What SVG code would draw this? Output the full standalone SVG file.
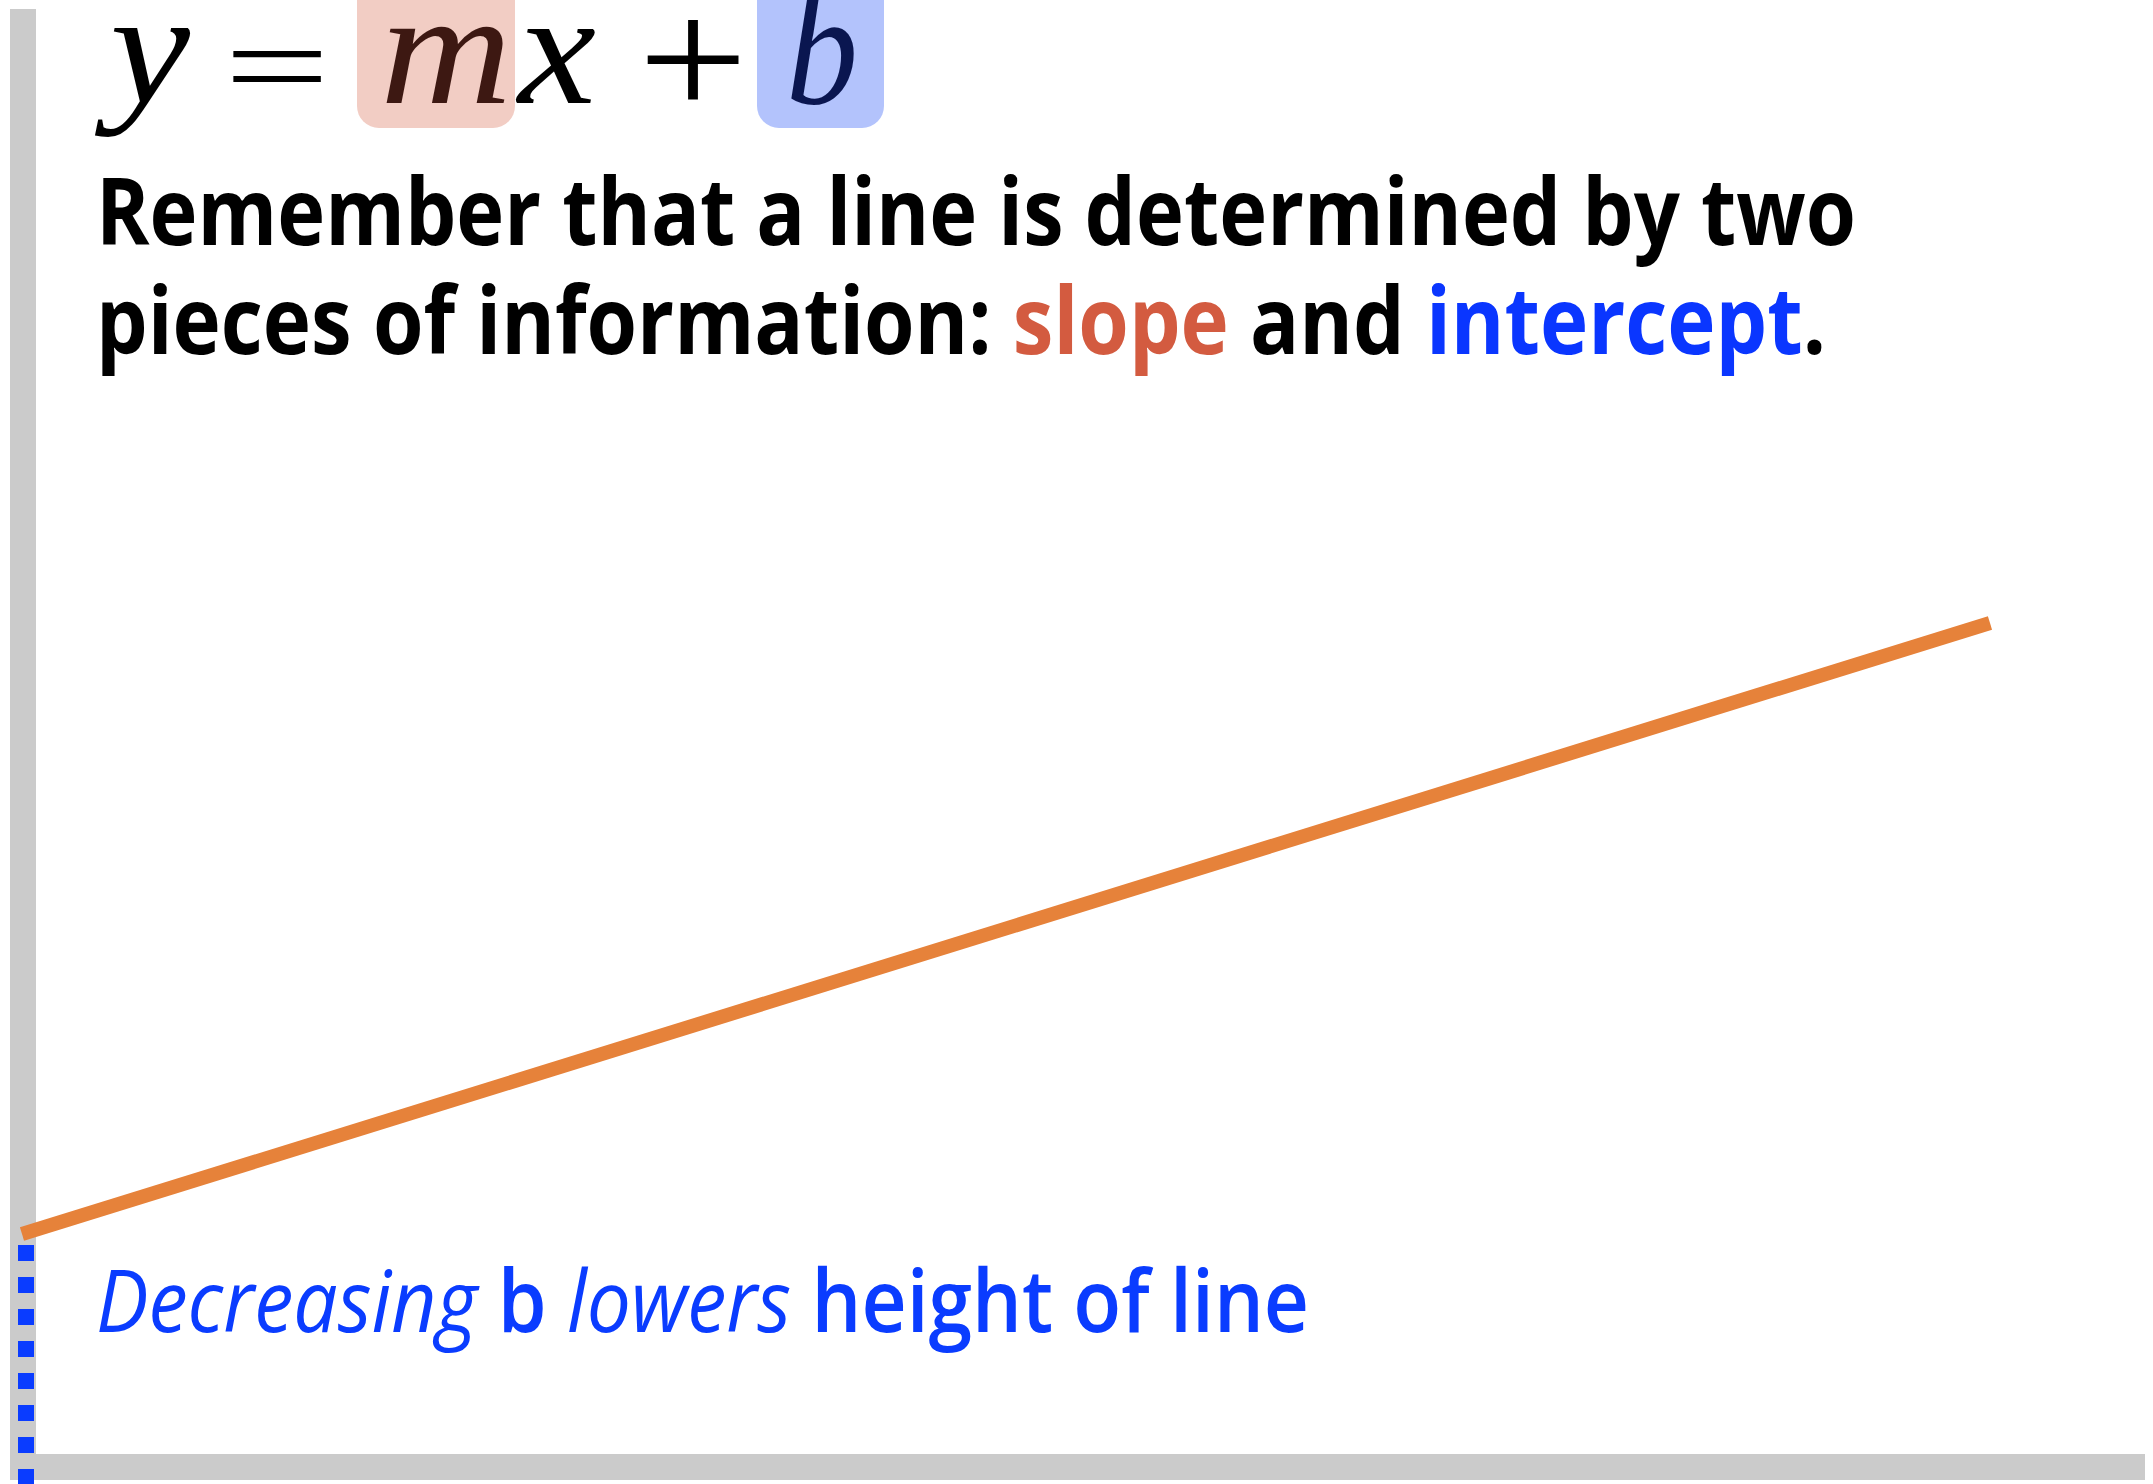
<svg xmlns="http://www.w3.org/2000/svg" width="2153" height="1484" viewBox="0 0 2153 1484">
<style>
.ax{fill:#cbcbcb}
.eq{font-family:"Liberation Serif","DejaVu Serif",serif;font-style:italic;font-size:160px}
.op{font-family:"Liberation Serif","DejaVu Serif",serif;fill:#000}
.body{font-family:"Open Sans","Noto Sans",sans-serif;font-weight:700;font-size:94px;fill:#000}
.note{font-family:"Open Sans","Noto Sans",sans-serif;font-size:86px;fill:#0a3cff}
.up{font-weight:600}
</style>
<rect width="2153" height="1484" fill="#fff"/>
<g id="axes">
  <rect class="ax" x="10" y="9" width="26" height="1471"/>
  <rect class="ax" x="10" y="1454" width="2135" height="26"/>
</g>
<g id="equation">
  <rect x="357" y="-30" width="158" height="158" rx="22" fill="#f2cdc4"/>
  <rect x="757" y="-30" width="127" height="158" rx="22" fill="#b3c3fc"/>
  <text class="eq" x="110" y="103" textLength="80" lengthAdjust="spacingAndGlyphs" fill="#000">y</text>
  <text class="op" x="224" y="107" font-size="123" textLength="106" lengthAdjust="spacingAndGlyphs">=</text>
  <text class="eq" x="380" y="103" textLength="132" lengthAdjust="spacingAndGlyphs" fill="#3d1812">m</text>
  <text class="eq" x="518" y="103" textLength="78" lengthAdjust="spacingAndGlyphs" fill="#000">x</text>
  <text class="op" x="638" y="116" font-size="170" textLength="110" lengthAdjust="spacingAndGlyphs">+</text>
  <text class="eq" x="786" y="103" textLength="72" lengthAdjust="spacingAndGlyphs" fill="#0a1650">b</text>
</g>
<g id="heading">
  <text class="body" x="96" y="245" textLength="1760" lengthAdjust="spacingAndGlyphs">Remember that a line is determined by two</text>
  <text class="body" x="96" y="354" textLength="1730" lengthAdjust="spacingAndGlyphs">pieces of information: <tspan fill="#d35b40">slope</tspan> and <tspan fill="#0a36ff">intercept</tspan>.</text>
</g>
<g id="connectors">
  <line x1="26" y1="1245" x2="26" y2="1484" stroke="#0a3cff" stroke-width="16" stroke-dasharray="16 16"/>
  <line x1="22" y1="1234" x2="1990" y2="623" stroke="#e6823a" stroke-width="14"/>
</g>
<g id="note">
  <text class="note" x="96" y="1332" textLength="1213" lengthAdjust="spacingAndGlyphs"><tspan font-style="italic">Decreasing</tspan> <tspan class="up">b</tspan> <tspan font-style="italic">lowers</tspan> <tspan class="up">height of line</tspan></text>
</g>
</svg>
